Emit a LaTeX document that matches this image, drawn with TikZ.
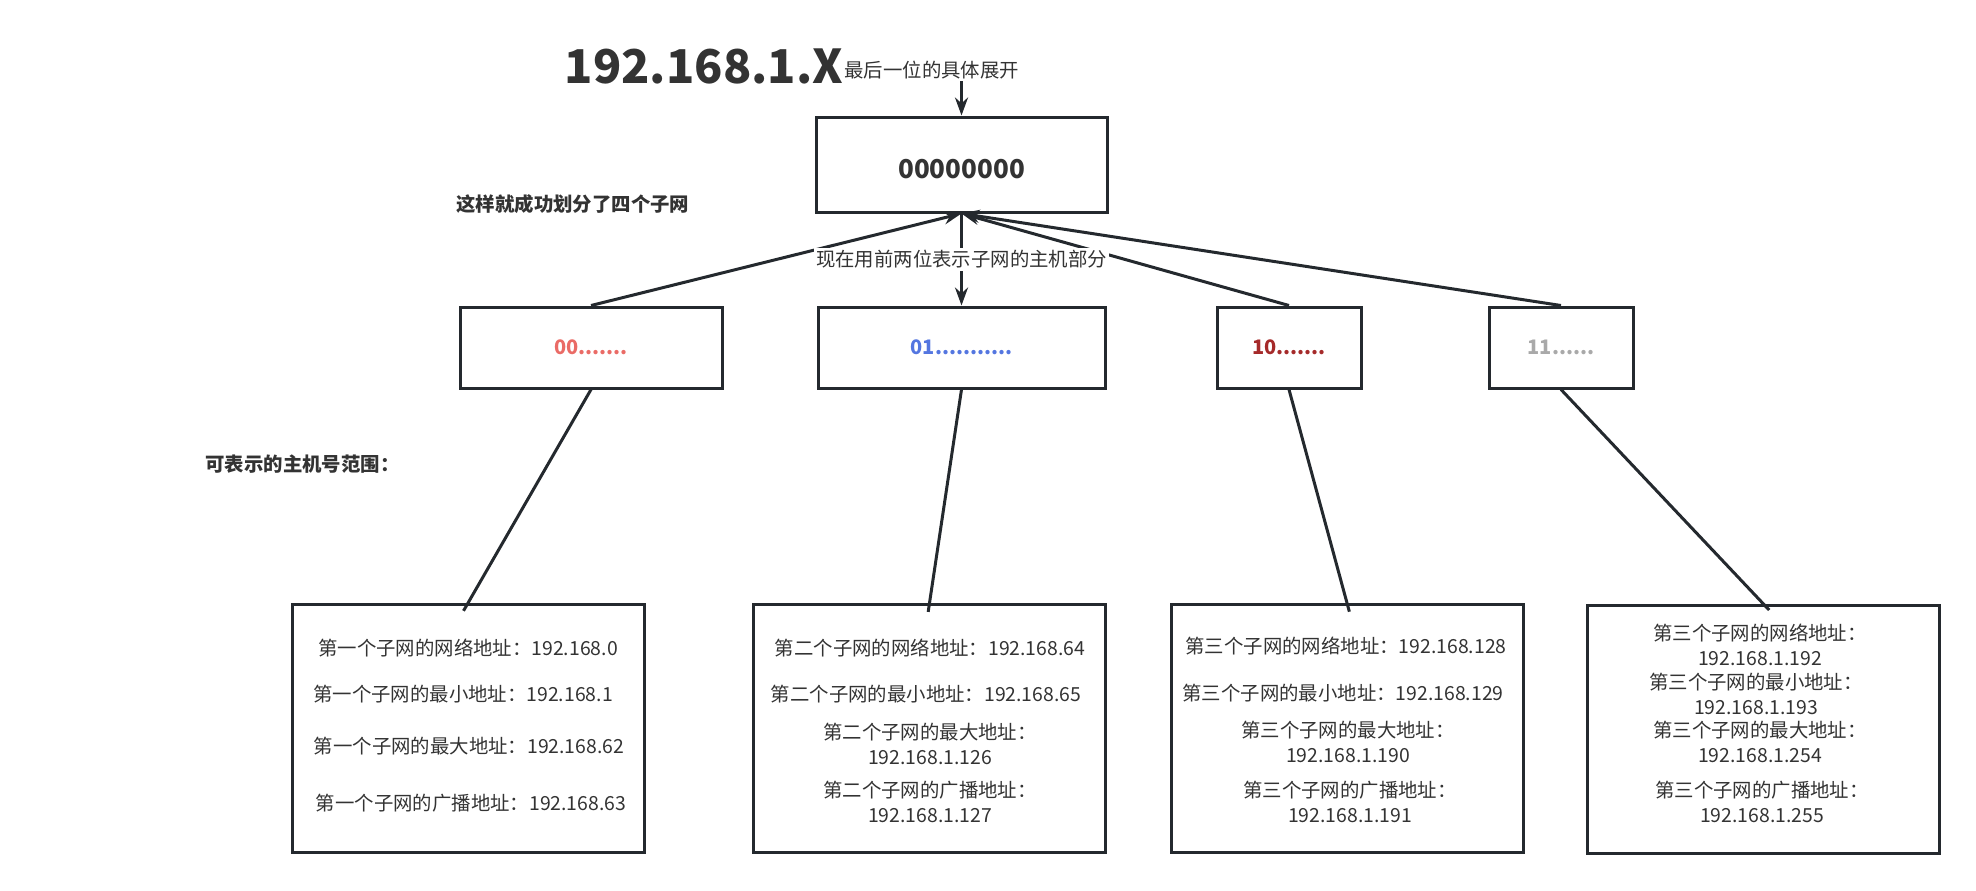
\documentclass[tikz,border=0pt]{standalone}
\usepackage{fontspec}
\setmainfont{Noto Sans CJK SC}
\usetikzlibrary{arrows.meta,positioning}
\definecolor{ink}{HTML}{333333}
\definecolor{edge}{HTML}{24292E}
\definecolor{redbits}{HTML}{EA6B66}
\definecolor{bluebits}{HTML}{5476E0}
\definecolor{darkredbits}{HTML}{A52A2A}
\definecolor{greybits}{HTML}{A9A9A9}
\begin{document}
\begin{tikzpicture}[x=0.5pt,y=-0.5pt,>={Stealth[length=9pt,width=6.5pt]},
  every node/.style={font=\fontsize{9.7}{12.5}\selectfont,text=ink},
  box/.style={draw=edge,line width=1.5pt,minimum height=40.5pt,inner sep=0pt},
  subbox/.style={draw=edge,line width=1.5pt,minimum width=176pt,minimum height=124pt,inner sep=0pt},
  link/.style={draw=edge,line width=1.5pt},
  bits/.style={font=\fontsize{10}{12}\selectfont\bfseries},
  info/.style={align=center,inner sep=0pt}]
  \useasboundingbox (0,0) rectangle (1976,890);
  \node[font=\fontsize{23.3}{28}\selectfont\bfseries,inner sep=0pt] (title) at (704,66) {192.168.1.X};
  \node[anchor=west,inner sep=1pt] (note) at (842,70) {最后一位的具体展开};
  \node[box,minimum width=145.5pt,minimum height=47.5pt,text height=13.5pt,text depth=0pt,font=\fontsize{13}{15}\selectfont\bfseries] (byte) at (961.5,164.5) {00000000};
  \node[anchor=west,inner sep=0pt,font=\fontsize{9.7}{12}\selectfont\bfseries] (done) at (456,204) {这样就成功划分了四个子网};
  \node[box,bits,minimum width=131pt,text=redbits] (b00) at (591,347.5) {00.......};
  \node[box,bits,minimum width=143.5pt,text=bluebits] (b01) at (961.5,347.5) {01...........};
  \node[box,bits,minimum width=72pt,text=darkredbits] (b10) at (1289,347.5) {10.......};
  \node[box,bits,minimum width=72pt,text=greybits] (b11) at (1561,347.5) {11......};
  \node[anchor=west,inner sep=0pt,font=\fontsize{9.7}{12}\selectfont\bfseries] (range) at (205,464) {可表示的主机号范围：};
  \node[subbox] (sub1) at (468,728.5) {};
  \node[subbox] (sub2) at (929.5,728.5) {};
  \node[subbox] (sub3) at (1347,728.5) {};
  \node[subbox] (sub4) at (1763,729) {};
  \node[info] (net1) at (468,648) {第一个子网的网络地址：192.168.0};
  \node[info] (min1) at (463,694) {第一个子网的最小地址：192.168.1};
  \node[info] (max1) at (469,746) {第一个子网的最大地址：192.168.62};
  \node[info] (bc1) at (471,803) {第一个子网的广播地址：192.168.63};
  \node[info] (net2) at (930,648) {第二个子网的网络地址：192.168.64};
  \node[info] (min2) at (926,694) {第二个子网的最小地址：192.168.65};
  \node[info] (max2) at (930,744) {第二个子网的最大地址：\\192.168.1.126};
  \node[info] (bc2) at (930,802) {第二个子网的广播地址：\\192.168.1.127};
  \node[info] (net3) at (1346,646) {第三个子网的网络地址：192.168.128};
  \node[info] (min3) at (1343,693) {第三个子网的最小地址：192.168.129};
  \node[info] (max3) at (1348,742) {第三个子网的最大地址：\\192.168.1.190};
  \node[info] (bc3) at (1350,802) {第三个子网的广播地址：\\192.168.1.191};
  \node[info] (net4) at (1760,645) {第三个子网的网络地址：\\192.168.1.192};
  \node[info] (min4) at (1756,694) {第三个子网的最小地址：\\192.168.1.193};
  \node[info] (max4) at (1760,742) {第三个子网的最大地址：\\192.168.1.254};
  \node[info] (bc4) at (1762,802) {第三个子网的广播地址：\\192.168.1.255};
  \draw[link,->] (note.south -| byte.north) -- (byte.north);
  \draw[link,->] (b00.north) -- (byte.south);
  \draw[link,->] (b10.north) -- (byte.south);
  \draw[link,->] (b11.north) -- (byte.south);
  \draw[link,->] (byte.south) -- node[fill=white,inner sep=1pt] (split) {现在用前两位表示子网的主机部分} (b01.north);
  \draw[link,shorten >=-4.5pt] (b00.south) -- (sub1.north);
  \draw[link,shorten >=-4.5pt] (b01.south) -- (sub2.north);
  \draw[link,shorten >=-4.5pt] (b10.south) -- (sub3.north);
  \draw[link,shorten >=-4.5pt] (b11.south) -- (sub4.north);
\end{tikzpicture}
\end{document}
